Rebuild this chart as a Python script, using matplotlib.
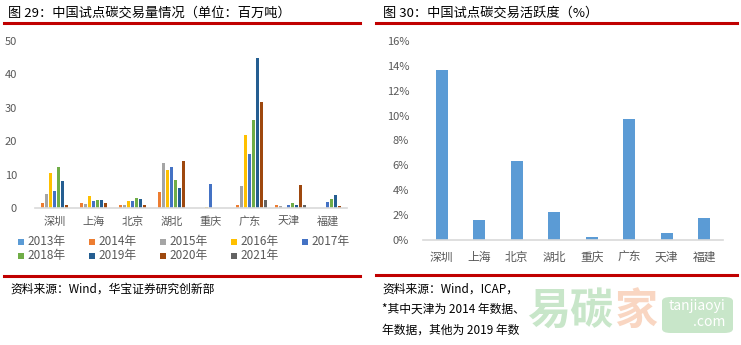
import numpy as np
import matplotlib
matplotlib.use('Agg')
import matplotlib.pyplot as plt
from matplotlib.lines import Line2D
from matplotlib.patches import FancyBboxPatch, Rectangle

plt.rcParams['font.family'] = ['Noto Sans CJK SC', 'DejaVu Sans']

# 试点地区
cities = ['深圳', '上海', '北京', '湖北', '重庆', '广东', '天津', '福建']

# 各年成交量（百万吨），按 cities 顺序
years = ['2013年', '2014年', '2015年', '2016年', '2017年', '2018年', '2019年', '2020年', '2021年']
vol_2013 = [0, 0, 0, 0, 0, 0, 0, 0]
vol_2014 = [1.6, 1.6, 0.9, 4.8, 0, 0.9, 0.9, 0]
vol_2015 = [4.2, 1.2, 0.9, 13.5, 0, 6.6, 0.6, 0]
vol_2016 = [10.5, 3.6, 2.1, 11.4, 0.3, 21.9, 0, 0]
vol_2017 = [5.1, 2.1, 2.1, 12.3, 7.2, 16.2, 0.9, 1.8]
vol_2018 = [12.3, 2.4, 3.0, 8.4, 0, 26.4, 1.5, 2.7]
vol_2019 = [8.1, 2.4, 2.7, 6.0, 0, 45.0, 0.9, 3.9]
vol_2020 = [0.9, 1.5, 0.9, 14.1, 0, 31.8, 6.9, 0.6]
vol_2021 = [0, 0, 0, 0, 0, 2.4, 0.9, 0]

# 交易活跃度（%）
activity = [13.7, 1.6, 6.35, 2.25, 0.24, 9.7, 0.56, 1.77]

colors = ['#5B9BD5', '#ED7D31', '#A5A5A5', '#FFC000', '#4472C4',
          '#70AD47', '#255E91', '#9E480E', '#636363']

W, H = 741, 345
fig = plt.figure(figsize=(W / 100, H / 100), dpi=100)


def fx(x):
    return x / W


def fy(y):
    return 1 - y / H


def red_line(x0, x1, y):
    fig.add_artist(Line2D([fx(x0), fx(x1)], [fy(y), fy(y)], color='#C00000',
                          lw=2.2, transform=fig.transFigure))


grey = '#595959'

# ---- 左图：成交量 ----
ax1 = fig.add_axes([fx(35), fy(208), fx(347) - fx(35), fy(41) - fy(208)])
series = [vol_2013, vol_2014, vol_2015, vol_2016, vol_2017,
          vol_2018, vol_2019, vol_2020, vol_2021]
x = np.arange(len(cities))
slot = 0.1
for i, vals in enumerate(series):
    ax1.bar(x + (i - 4) * slot, vals, width=0.078, color=colors[i], linewidth=0)
ax1.set_xlim(-0.5, len(cities) - 0.5)
ax1.set_ylim(0, 50)
ax1.set_yticks(range(0, 51, 10))
ax1.set_xticks(x)
ax1.set_xticklabels(cities, fontsize=8, color=grey)
ax1.tick_params(axis='y', labelsize=8, colors=grey, length=0, pad=13)
ax1.tick_params(axis='x', length=0, pad=6)
for s in ['top', 'right', 'left']:
    ax1.spines[s].set_visible(False)
ax1.spines['bottom'].set_color('#D9D9D9')
ax1.spines['bottom'].set_linewidth(1.2)

# 图例：两行，按行排列
for i, (lab, c) in enumerate(zip(years, colors)):
    row, col = divmod(i, 5)
    lx = 18 + 71 * col
    ly = 242 + 14 * row
    fig.add_artist(Rectangle((fx(lx), fy(ly + 3)), fx(6), 6 / H,
                             facecolor=c, edgecolor='none',
                             transform=fig.transFigure))
    fig.text(fx(lx + 9), fy(ly), lab, fontsize=8.5, color=grey,
             va='center', ha='left')

fig.text(fx(8), fy(13), '图 29：中国试点碳交易量情况（单位：百万吨）',
         fontsize=9.5, va='center', ha='left')
red_line(4, 360, 23)
red_line(4, 360, 276)
fig.text(fx(10), fy(289), '资料来源：Wind，华宝证券研究创新部',
         fontsize=8.5, va='center', ha='left')

# ---- 右图：活跃度 ----
ax2 = fig.add_axes([fx(423), fy(240), fx(723) - fx(423), fy(41) - fy(240)])
ax2.bar(x, activity, width=0.32, color='#5B9BD5', linewidth=0)
ax2.set_xlim(-0.5, len(cities) - 0.5)
ax2.set_ylim(0, 16)
ax2.set_yticks(range(0, 17, 2))
ax2.set_yticklabels([f'{v}%' for v in range(0, 17, 2)])
ax2.set_xticks(x)
ax2.set_xticklabels(cities, fontsize=8.5, color=grey)
ax2.tick_params(axis='y', labelsize=8, colors=grey, length=0, pad=10)
ax2.tick_params(axis='x', length=0, pad=8)
for s in ['top', 'right', 'left']:
    ax2.spines[s].set_visible(False)
ax2.spines['bottom'].set_color('#D9D9D9')
ax2.spines['bottom'].set_linewidth(1.2)

fig.text(fx(383), fy(13), '图 30：中国试点碳交易活跃度（%）',
         fontsize=9.5, va='center', ha='left')
red_line(376, 737, 23)
red_line(376, 737, 275)
fig.text(fx(382), fy(289), '资料来源：Wind，ICAP，', fontsize=8.5, va='center', ha='left')
fig.text(fx(382), fy(309), '*其中天津为 2014 年数据、', fontsize=8.5, va='center', ha='left')
fig.text(fx(382), fy(330), '年数据，其他为 2019 年数', fontsize=8.5, va='center', ha='left')

# 水印
for ch, cx, c in [('易', 549, '#C8E6C9'), ('碳', 591, '#C8E6C9'), ('家', 636, '#F9D6C2')]:
    fig.text(fx(cx), fy(311), ch, fontsize=31, fontweight='bold',
             color=c, va='center', ha='center')
box = FancyBboxPatch((fx(662), fy(333)), fx(733) - fx(662), fy(297) - fy(333),
                     boxstyle='round,pad=0,rounding_size=0.012',
                     transform=fig.transFigure, facecolor='#C8E6C9',
                     edgecolor='none')
fig.add_artist(box)
fig.text(fx(697), fy(306), 'tanjiaoyi', fontsize=10, color='white',
         va='center', ha='center')
fig.text(fx(709), fy(322), '.com', fontsize=10, color='white',
         va='center', ha='center')

fig.savefig('out.png', dpi=100)
